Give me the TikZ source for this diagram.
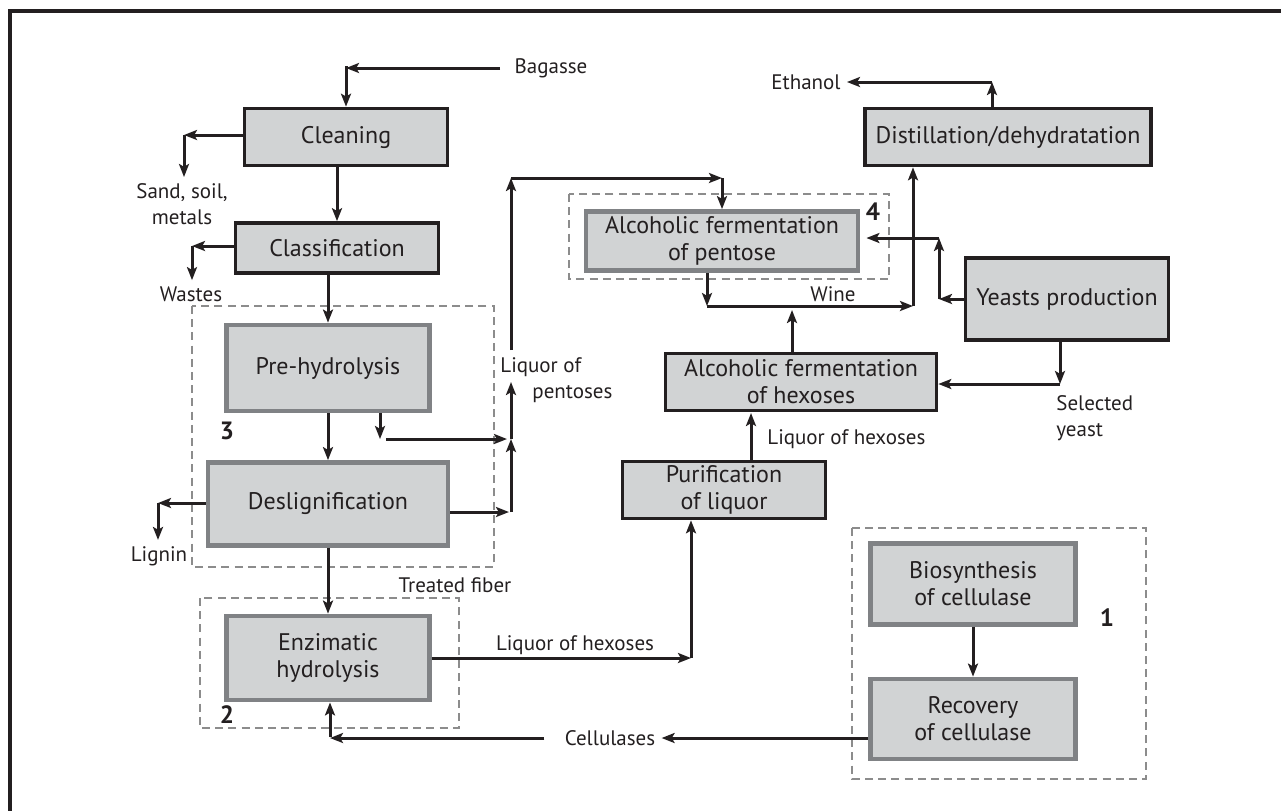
\documentclass[tikz,border=0pt]{standalone}
\usepackage{fontspec}
\setmainfont{PT Sans}
\usetikzlibrary{arrows.meta}
\definecolor{ink}{HTML}{231F20}
\definecolor{boxfill}{HTML}{D1D3D4}
\definecolor{edgegrey}{HTML}{808285}
\definecolor{dashgrey}{HTML}{8C8C8C}
\newcommand{\boxfont}{\fontsize{12}{13.5}\selectfont}
\newcommand{\labfont}{\fontsize{10.5}{13}\selectfont}
\begin{document}
\begin{tikzpicture}[x=0.5pt,y=-0.5pt,
	blackbox/.style={draw=ink,line width=1.8pt,fill=boxfill,inner sep=0pt,align=center,text=ink,font=\boxfont},
	greybox/.style={draw=edgegrey,line width=2.4pt,fill=boxfill,inner sep=0pt,align=center,text=ink,font=\boxfont},
	flow/.style={draw=ink,line width=1.5pt,-{Stealth[length=6.5pt,width=5pt,inset=1.4pt]}},
	group/.style={draw=dashgrey,line width=1.3pt,dash pattern=on 4pt off 2.6pt},
	lab/.style={font=\labfont,text=ink,align=center,inner sep=3pt},
	num/.style={font=\fontsize{12.5}{14}\selectfont\bfseries,text=ink}]
	\useasboundingbox (0,0) rectangle (1281,811);
	\draw[ink,line width=1.6pt] (1281,11) -- (10,11) -- (10,811);

	\draw[group] (192,306) rectangle (494,567);
	\draw[group] (200,598) rectangle (459,728);
	\draw[group] (569,194) rectangle (889,279);
	\draw[group] (852,528) rectangle (1146,779);

	\node[blackbox,minimum width=101.5pt,minimum height=28.5pt] (clean) at (346,137) {Cleaning};
	\node[blackbox,minimum width=101.5pt,minimum height=25pt] (classif) at (337,248) {Classification};
	\node[greybox,minimum width=101.5pt,minimum height=43pt] (prehyd) at (328,368) {Pre-hydrolysis};
	\node[greybox,minimum width=120pt,minimum height=41.5pt] (deslig) at (328,504) {Deslignification};
	\node[greybox,minimum width=101.5pt,minimum height=42pt] (enzhyd) at (328,658) {Enzimatic\\hydrolysis};
	\node[greybox,minimum width=136pt,minimum height=29.5pt] (ferpen) at (722,241) {Alcoholic fermentation\\of pentose};
	\node[blackbox,minimum width=143pt,minimum height=28.5pt] (distil) at (1008,137) {Distillation/dehydratation};
	\node[blackbox,minimum width=101.5pt,minimum height=41pt] (yeast) at (1067,299) {Yeasts production};
	\node[blackbox,minimum width=135.5pt,minimum height=28.5pt] (ferhex) at (801,382) {Alcoholic fermentation\\of hexoses};
	\node[blackbox,minimum width=101.5pt,minimum height=28.5pt] (purif) at (724,490) {Purification\\of liquor};
	\node[greybox,minimum width=102.5pt,minimum height=40.5pt] (biosyn) at (973,584) {Biosynthesis\\of cellulase};
	\node[greybox,minimum width=102.5pt,minimum height=40pt] (recov) at (973,719) {Recovery\\of cellulase};

	\node[num] (n3) at (227,431) {3};
	\node[num] (n2) at (227,715) {2};
	\node[num] (n4) at (873,212) {4};
	\node[num] (n1) at (1107,618) {1};

	\node[lab] (bagasse) at (551,68) {Bagasse};
	\node[lab] (sand) at (182,204) {Sand, soil,\\metals};
	\node[lab] (wastes) at (191,294) {Wastes};
	\node[lab] (lignin) at (159,556) {Lignin};
	\node[lab] (fiber) at (455,585) {Treated fiber};
	\node[lab,anchor=west,align=left,inner sep=0pt] (liqpent) at (500,380) {Liquor of\\\hspace*{16pt}pentoses};
	\node[lab] (liqhexa) at (575,645) {Liquor of hexoses};
	\node[lab] (cellul) at (610,738) {Cellulases};
	\node[lab,anchor=west,inner sep=0pt] (liqhexb) at (767,439) {Liquor of hexoses};
	\node[lab,anchor=west,align=left,inner sep=0pt] (selyeast) at (1056,418) {Selected\\yeast};
	\node[lab] (wine) at (833,294) {Wine};
	\node[lab] (ethanol) at (806,82) {Ethanol};

	\coordinate (bagc) at (346,66);
	\coordinate (sandc) at (184,135);
	\coordinate (wastec) at (192,246);
	\coordinate (lignc) at (158,503);
	\coordinate (prehc) at (380,439);
	\coordinate (pentj) at (511,439);
	\coordinate (pentd) at (511,512);
	\coordinate (pentt) at (511,382);
	\coordinate (pentb) at (511,350);
	\coordinate (pentc) at (511,178);
	\coordinate (ferc) at (722,178);
	\coordinate (winec) at (707,306);
	\coordinate (winej) at (913,306);
	\coordinate (hexup) at (792,310);
	\coordinate (ethc) at (992,82);
	\coordinate (yeastc) at (939,299);
	\coordinate (yeastt) at (939,238);
	\coordinate (selc) at (1060,384);
	\coordinate (hexin) at (751,413);
	\coordinate (hexc) at (691,658);
	\coordinate (cellc) at (330,737);

	\draw[flow] ([xshift=-4pt]bagasse.west) -- (bagasse.west -| bagc);
	\draw[flow] (bagc) -- (clean);
	\draw[flow] (clean.west |- sandc) -- (sandc);
	\draw[flow] (sandc) -- (sand.north -| sandc);
	\draw[flow] (clean.south -| classif) -- (classif);
	\draw[flow] (classif.west |- wastec) -- (wastec);
	\draw[flow] (wastec) -- (wastes.north -| wastec);
	\draw[flow] (classif.south -| prehyd) -- (prehyd);
	\draw[flow] (prehyd) -- (deslig);
	\draw[flow] (deslig) -- (enzhyd);
	\draw[flow] (deslig.west |- lignc) -- (lignc);
	\draw[flow] (lignc) -- (lignin.north -| lignc);
	\draw[flow] (prehyd.south -| prehc) -- (prehc);
	\draw[flow,shorten <=3pt,shorten >=2pt] (prehc) -- (pentj);
	\draw[flow,shorten >=1pt] (deslig.east |- pentd) -- (pentd);
	\draw[flow] (pentd) -- (pentj);
	\draw[flow] (pentj) -- (pentt);
	\draw[flow] (pentb) -- (pentc);
	\draw[flow] (pentc) -- (ferc);
	\draw[flow] (ferc) -- (ferpen);
	\draw[flow] (ferpen.south -| winec) -- (winec);
	\draw[flow] (winec) -- (winej);
	\draw[flow] (winej) -- (distil.south -| winej);
	\draw[flow] (ferhex.north -| hexup) -- (hexup);
	\draw[flow] (distil.north -| ethc) -- (ethc);
	\draw[flow] (ethc) -- (ethc -| ethanol.east);
	\draw[flow] (yeast.west) -- (yeastc);
	\draw[flow] (yeastc) -- (yeastt);
	\draw[flow,shorten >=3pt] (yeastt) -- (ferpen.east |- yeastt);
	\draw[flow] (yeast.south -| selc) -- (selc);
	\draw[flow] (selc) -- (ferhex.east |- selc);
	\draw[flow] (purif.north -| hexin) -- (hexin);
	\draw[flow] (enzhyd) -- (hexc);
	\draw[flow] (hexc) -- (purif.south -| hexc);
	\draw[flow] (biosyn) -- (recov);
	\draw[flow] (recov.west |- cellul) -- (cellul.east);
	\draw[flow] ([xshift=-7pt]cellul.west) -- (cellul.west -| cellc);
	\draw[flow] (cellc) -- (enzhyd.south -| cellc);
\end{tikzpicture}
\end{document}
